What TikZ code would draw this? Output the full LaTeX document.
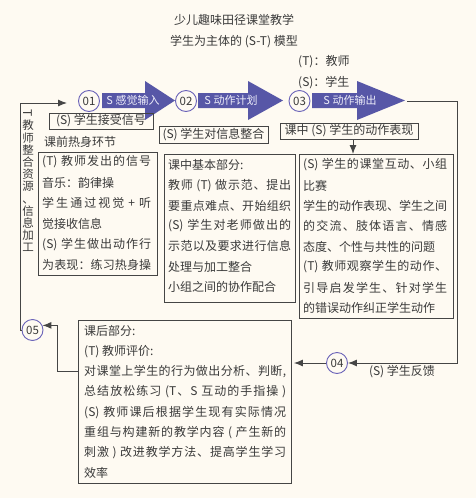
\documentclass[tikz,border=0pt]{standalone}
\usepackage{fontspec}
\setmainfont{Noto Sans CJK SC}
\usetikzlibrary{arrows.meta,calc}
\definecolor{bg}{HTML}{FEFAF2}
\definecolor{ink}{HTML}{3A3A3A}
\definecolor{linec}{HTML}{454545}
\definecolor{arrblue}{HTML}{5757A7}
\definecolor{circ}{HTML}{6A62B8}
\definecolor{arrtext}{HTML}{EEEEFA}
\makeatletter
\newcommand\jline[2]{\hbox to #1{\@tfor\jl@c:=#2\do{\jl@c\hfil}\unskip}}
\makeatother
\begin{document}
\begin{tikzpicture}[x=1pt,y=-1pt,
  every node/.style={inner sep=0pt, text=ink},
  fnt/.style={font=\fontsize{12}{14}\selectfont},
  txt/.style={fnt, anchor=west},
  box/.style={draw=linec, line width=0.9pt, fnt},
  numc/.style={circle, draw=circ, line width=0.9pt, fill=bg, minimum size=21pt, font=\fontsize{11.5}{13}\selectfont},
  conn/.style={draw=linec, line width=1pt, -{Latex[length=9pt,width=7pt]}},
  arrlbl/.style={text=arrtext, font=\fontsize{11}{13}\selectfont}
]
\fill[bg] (0,0) rectangle (476,498);
\useasboundingbox (0,0) rectangle (476,498);

% titles
\node[fnt] (t1) at (234,20) {少儿趣味田径课堂教学};
\node[fnt] (t2) at (234,42) {学生为主体的 (S-T) 模型};
\node[txt] (lt) at (298,62) {(T)：教师};
\node[txt] (ls) at (298,83) {(S)：学生};

% block arrows
\fill[arrblue] (102,93) -- (145,93) -- (145,81) -- (175,100.5) -- (145,120) -- (145,108) -- (102,108) -- cycle;
\fill[arrblue] (198,93) -- (248,93) -- (248,81) -- (283,100.5) -- (248,120) -- (248,108) -- (198,108) -- cycle;
\fill[arrblue] (312,93) -- (357,93) -- (357,81) -- (405,100.5) -- (357,120) -- (357,108) -- (312,108) -- cycle;
\node[arrlbl] (al1) at (133,100.5) {S 感觉输入};
\node[arrlbl] (al2) at (231,100.5) {S 动作计划};
\node[arrlbl] (al3) at (350,100.5) {S 动作输出};

% circles
\node[numc] (c1) at (89,101) {01};
\node[numc] (c2) at (186,101) {02};
\node[numc] (c3) at (299.5,101) {03};
\node[numc] (c4) at (337,363) {04};
\node[numc] (c5) at (32.5,330) {05};

% small boxes
\node[box, minimum width=104pt, minimum height=16pt] (b1) at (101,121) {(S) 学生接受信号};
\node[box, minimum width=109pt, minimum height=17pt] (b2) at (213.5,134.5) {(S) 学生对信息整合};
\node[box, minimum width=138pt, minimum height=16pt] (b3) at (349,131) {课中 (S) 学生的动作表现};
\node[fnt] (pre) at (80,142) {课前热身环节};

% large boxes
\node[box, anchor=north west, minimum width=119pt, minimum height=123pt] (pbox) at (38,152) {};
\node[box, anchor=north west, minimum width=131pt, minimum height=148pt] (mbox) at (164,154) {};
\node[box, anchor=north west, minimum width=154pt, minimum height=164pt] (rbox) at (299,154) {};
\node[box, anchor=north west, minimum width=213pt, minimum height=163pt] (bbox) at (78,320) {};

% pre-class text
\node[txt] (p1) at (42,162) {\jline{109pt}{{(T) }教师发出的信号}};
\node[txt] (p2) at (42,182.6) {音乐：韵律操};
\node[txt] (p3) at (42,203.2) {\jline{109pt}{学生通过视觉{\,+\,}听}};
\node[txt] (p4) at (42,223.8) {觉接收信息};
\node[txt] (p5) at (42,244.4) {\jline{109pt}{{(S) }学生做出动作行}};
\node[txt] (p6) at (42,265) {\jline{109pt}{为表现：练习热身操}};

% middle text
\node[txt] (m1) at (168,165) {课中基本部分:};
\node[txt] (m2) at (168,185.3) {\jline{123pt}{教师{ (T) }做示范、提出}};
\node[txt] (m3) at (168,205.6) {\jline{123pt}{要重点难点、开始组织}};
\node[txt] (m4) at (168,225.9) {\jline{123pt}{{(S) }学生对老师做出的}};
\node[txt] (m5) at (168,246.2) {\jline{123pt}{示范以及要求进行信息}};
\node[txt] (m6) at (168,266.5) {处理与加工整合};
\node[txt] (m7) at (168,286.8) {小组之间的协作配合};

% right text
\node[txt] (r1) at (303,165) {\jline{144pt}{{(S) }学生的课堂互动、小组}};
\node[txt] (r2) at (303,185.4) {比赛};
\node[txt] (r3) at (303,205.8) {\jline{144pt}{学生的动作表现、学生之间}};
\node[txt] (r4) at (303,226.2) {\jline{144pt}{的交流、肢体语言、情感}};
\node[txt] (r5) at (303,246.6) {态度、个性与共性的问题};
\node[txt] (r6) at (303,267) {\jline{144pt}{{(T) }教师观察学生的动作、}};
\node[txt] (r7) at (303,287.4) {\jline{144pt}{引导启发学生、针对学生}};
\node[txt] (r8) at (303,307.8) {的错误动作纠正学生动作};

% bottom text
\node[txt] (q1) at (84,331) {课后部分:};
\node[txt] (q2) at (84,351.3) {(T) 教师评价:};
\node[txt] (q3) at (84,371.6) {\jline{202pt}{对课堂上学生的行为做出分析、判断,}};
\node[txt] (q4) at (84,391.9) {\jline{202pt}{总结放松练习{ (T}、{S }互动的手指操{ )}}};
\node[txt] (q5) at (84,412.2) {\jline{202pt}{{(S) }教师课后根据学生现有实际情况}};
\node[txt] (q6) at (84,432.5) {\jline{202pt}{重组与构建新的教学内容{ ( }产生新的}};
\node[txt] (q7) at (84,452.8) {\jline{202pt}{刺激{ ) }改进教学方法、提高学生学习}};
\node[txt] (q8) at (84,473.1) {效率};

\node[fnt] (fb) at (402,372) {(S) 学生反馈};

% vertical text
\node[fnt, rotate=-90] (vT) at (27.5,113) {T};
\node[font=\fontsize{11.5}{12.2}\selectfont, align=center] (vt) at (28,186) {教\\师\\整\\合\\资\\源\\、\\信\\息\\加\\工};

% connectors
\coordinate (a3tip) at (407,101);
\coordinate (in1) at (67,103);
\coordinate (bout) at (78,371);
\draw[conn] (a3tip) -- (457,101) |- (c4.east);
\draw[conn, shorten >=2pt] (c4.west) -- (c4.west -| bbox.east);
\draw[conn] (bout) -- (57,371) |- (c5.25);
\draw[conn] (c5.west) -| (20,103) -- (in1);
\draw[conn] ($(b3.south)+(4,0)$) -- ($(b3.south |- rbox.north)+(4,0)$);
\end{tikzpicture}
\end{document}
